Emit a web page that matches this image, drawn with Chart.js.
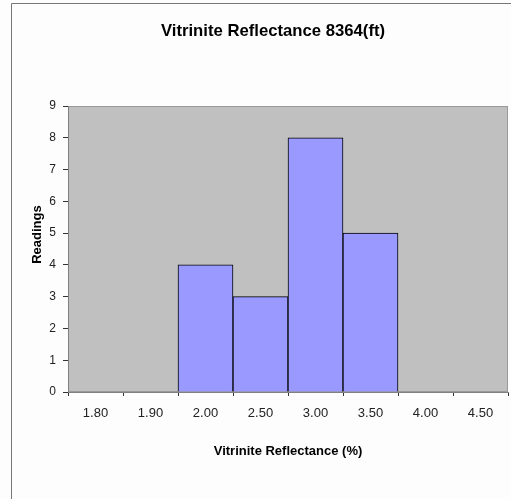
<!DOCTYPE html>
<html>
<head>
<meta charset="utf-8">
<script src="https://cdn.jsdelivr.net/npm/chart.js@4"></script>
<style>
  body { margin: 0; background: #fff; }
  canvas { display: block; }
</style>
</head>
<body>
<canvas id="histChart" width="511" height="499"></canvas>
<script>
const FONT = "'Liberation Sans', Arial, sans-serif";

/* ================= DATA ================= */
const categories = ["1.80", "1.90", "2.00", "2.50", "3.00", "3.50", "4.00", "4.50"];
const readings = [0, 0, 4, 3, 8, 5, 0, 0];
const yMin = 0;
const yMax = 9;
const yStep = 1;

const chartTitle = "Vitrinite Reflectance 8364(ft)";
const xTitle = "Vitrinite Reflectance (%)";
const yTitle = "Readings";

/* ================= FRAME + GREY PLOT AREA ================= */
const backdrop = {
    id: "backdrop",
    beforeDraw(chart) {
        const { ctx, chartArea: a } = chart;
        ctx.save();
        ctx.fillStyle = "#fdfdfd";
        ctx.fillRect(0, 0, chart.width, chart.height);

        ctx.strokeStyle = "#777";
        ctx.lineWidth = 1;
        ctx.beginPath();
        ctx.moveTo(11.5, chart.height);
        ctx.lineTo(11.5, 3.5);
        ctx.lineTo(chart.width, 3.5);
        ctx.stroke();

        ctx.fillStyle = "#c0c0c0";
        ctx.fillRect(a.left, a.top, a.right - a.left, a.bottom - a.top);
        ctx.strokeStyle = "#999";
        ctx.strokeRect(a.left + 0.5, a.top + 0.5, a.right - a.left - 1, a.bottom - a.top - 1);
        ctx.restore();
    }
};

/* ================= CHART ================= */
new Chart(document.getElementById("histChart"), {
    type: "bar",
    data: {
        labels: categories,
        datasets: [{
            data: readings,
            backgroundColor: "#9999ff",
            borderColor: "#000",
            borderWidth: 1,
            barPercentage: 1,
            categoryPercentage: 1
        }]
    },
    options: {
        responsive: false,
        animation: false,
        layout: { padding: { left: 38, right: 3, top: 0, bottom: 0 } },
        plugins: {
            legend: { display: false },
            tooltip: { enabled: false },
            title: {
                display: true,
                text: chartTitle,
                color: "#000",
                font: { family: FONT, size: 16.7, weight: "bold" },
                padding: { top: 21, bottom: 65 }
            }
        },
        scales: {
            x: {
                offset: true,
                grid: { offset: true, drawOnChartArea: false, tickLength: 4, color: "#333" },
                border: { color: "#808080" },
                ticks: {
                    color: "#222",
                    font: { family: FONT, size: 13 },
                    padding: 10,
                    maxRotation: 0,
                    autoSkip: false
                },
                title: {
                    display: true,
                    text: xTitle,
                    color: "#000",
                    font: { family: FONT, size: 13, weight: "bold" },
                    padding: { top: 0, bottom: 40 }
                },
                afterFit(scale) { scale.height = 107; }
            },
            y: {
                min: yMin,
                max: yMax,
                grid: { drawOnChartArea: false, tickLength: 5, color: "#333" },
                border: { color: "#808080" },
                ticks: {
                    stepSize: yStep,
                    color: "#222",
                    font: { family: FONT, size: 12 },
                    padding: 7
                },
                title: {
                    display: true,
                    text: " ".repeat(8) + yTitle,
                    color: "#000",
                    font: { family: FONT, size: 13, weight: "bold" },
                    padding: { top: -8, bottom: 0 }
                },
                afterFit(scale) { scale.width = 30; }
            }
        }
    },
    plugins: [backdrop]
});
</script>
</body>
</html>
